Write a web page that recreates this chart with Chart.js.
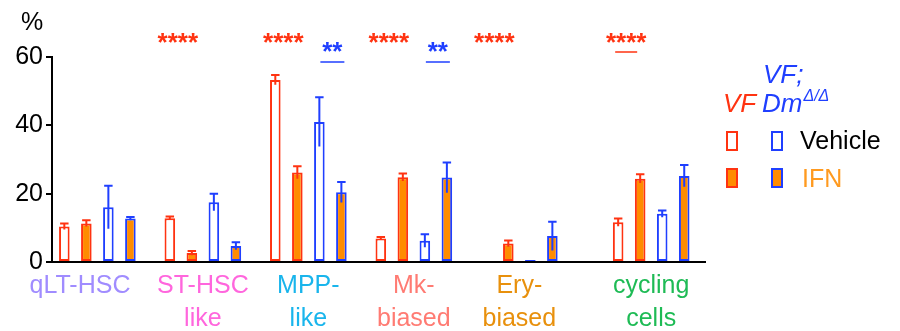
<!DOCTYPE html>
<html>
<head>
<meta charset="utf-8">
<script src="https://cdn.jsdelivr.net/npm/chart.js@4/dist/chart.umd.min.js"></script>
<style>
  html, body { margin: 0; padding: 0; background: #fff; }
  #wrap { width: 900px; height: 331px; }
</style>
</head>
<body>
<div id="wrap"><canvas id="chart" width="900" height="331"></canvas></div>
<script>
// categories and their positions on the x axis (last group sits a little further out)
const categories = [["qLT-HSC"], ["ST-HSC", "like"], ["MPP-", "like"], ["Mk-", "biased"], ["Ery-", "biased"], ["cycling", "cells"]];
const groupPos = [0, 1, 2, 3, 4, 5.25];
const labelColors = ["#A08CFF", "#FF66DD", "#19B5EC", "#FF7B73", "#E8900C", "#1EBB55"];
// trailing spaces nudge a centred label to the left (qLT-HSC sits left of its bars)
const labelPad = [5, 0, 0, 0, 0, 0];

// means (%) and SEM
const vfVehicle = [10.4, 12.8, 53.3, 6.9, 0, 11.6];
const vfVehicleErr = [0.9, 0.5, 1.4, 0.4, 0, 1.1];
const vfIfn = [11.3, 2.6, 26.2, 24.8, 5.4, 24.4];
const vfIfnErr = [0.9, 0.6, 1.8, 1.1, 0.9, 1.3];
const dmVehicle = [16.0, 17.5, 41.0, 6.2, 0.6, 14.1];
const dmVehicleErr = [6.3, 2.5, 7.2, 1.9, 0, 1.0];
const dmIfn = [12.7, 4.7, 20.4, 24.7, 7.6, 25.2];
const dmIfnErr = [0.5, 1.1, 3.0, 4.4, 4.2, 3.2];

const yTicks = [0, 20, 40, 60];

// significance marks per group
const sigVF = ["", "****", "****", "****", "****", "****"];
const sigVFLine = [false, false, false, false, false, true];
const sigDm = ["", "", "**", "**", "", ""];
const sigDmLine = [false, false, true, true, false, false];

const RED = "#FF3311";
const BLUE = "#1F3FFF";
const ORANGE = "#FF8C00";
const FONT = "'Liberation Sans', Arial, Helvetica, sans-serif";

const toXY = arr => arr.map((v, i) => ({ x: groupPos[i], y: v }));

const errorBars = {
    id: "errorBars",
    afterDatasetsDraw(chart) {
        const ctx = chart.ctx;
        const ys = chart.scales.y;
        chart.data.datasets.forEach((ds, di) => {
            const meta = chart.getDatasetMeta(di);
            meta.data.forEach((bar, i) => {
                const e = ds.errors[i];
                if (!e) return;
                const v = ds.data[i].y;
                const top = ys.getPixelForValue(v + e);
                const bot = ys.getPixelForValue(Math.max(0, v - e));
                const cw = bar.width * 0.4;
                ctx.save();
                ctx.strokeStyle = ds.borderColor;
                ctx.lineWidth = 2;
                ctx.beginPath();
                ctx.moveTo(bar.x, bot);
                ctx.lineTo(bar.x, top);
                ctx.moveTo(bar.x - cw, top);
                ctx.lineTo(bar.x + cw, top);
                ctx.stroke();
                ctx.restore();
            });
        });
    }
};

const annotations = {
    id: "annotations",
    afterDraw(chart) {
        const ctx = chart.ctx;
        const m = [0, 1, 2, 3].map(i => chart.getDatasetMeta(i));
        ctx.save();
        ctx.textAlign = "center";
        ctx.textBaseline = "alphabetic";
        ctx.font = "bold 26px " + FONT;

        categories.forEach((c, g) => {
            if (sigVF[g]) {
                const cx = (m[0].data[g].x + m[1].data[g].x) / 2 - 3;
                ctx.fillStyle = RED;
                ctx.fillText(sigVF[g], cx, 51);
                if (sigVFLine[g]) {
                    ctx.strokeStyle = RED; ctx.lineWidth = 1.5;
                    ctx.beginPath(); ctx.moveTo(cx - 11, 52); ctx.lineTo(cx + 11, 52); ctx.stroke();
                }
            }
            if (sigDm[g]) {
                const cx = (m[2].data[g].x + m[3].data[g].x) / 2 + 2;
                ctx.fillStyle = BLUE;
                ctx.fillText(sigDm[g], cx, 60);
                if (sigDmLine[g]) {
                    ctx.strokeStyle = BLUE; ctx.lineWidth = 1.5;
                    ctx.beginPath(); ctx.moveTo(cx - 12, 62); ctx.lineTo(cx + 12, 62); ctx.stroke();
                }
            }
        });

        // unit label
        ctx.textAlign = "left";
        ctx.fillStyle = "#000";
        ctx.font = "25px " + FONT;
        ctx.fillText("%", 21, 30);

        // legend
        ctx.font = "italic 26px " + FONT;
        ctx.fillStyle = RED;
        ctx.fillText("VF", 723, 112);
        ctx.fillStyle = BLUE;
        ctx.fillText("VF;", 763, 83);
        ctx.fillText("Dm", 762, 112);
        const dmW = ctx.measureText("Dm").width;
        ctx.font = "italic 16px " + FONT;
        ctx.fillText("\u0394/\u0394", 762 + dmW + 1, 101);

        ctx.lineWidth = 2;
        // vehicle row
        ctx.strokeStyle = RED; ctx.strokeRect(727, 132, 10, 18);
        ctx.strokeStyle = BLUE; ctx.strokeRect(772, 132, 10, 18);
        // IFN row
        ctx.fillStyle = ORANGE;
        ctx.fillRect(727, 169, 10, 18); ctx.fillRect(772, 169, 10, 18);
        ctx.strokeStyle = RED; ctx.strokeRect(727, 169, 10, 18);
        ctx.strokeStyle = BLUE; ctx.strokeRect(772, 169, 10, 18);

        ctx.font = "25px " + FONT;
        ctx.fillStyle = "#000";
        ctx.fillText("Vehicle", 800, 149);
        ctx.fillStyle = "#FF9A1F";
        ctx.fillText("IFN", 802, 187);
        ctx.restore();
    }
};

const barBase = { borderWidth: 2, borderSkipped: false, categoryPercentage: 0.835, barPercentage: 0.48 };

new Chart(document.getElementById("chart"), {
    type: "bar",
    data: {
        datasets: [
            { ...barBase, label: "VF Vehicle", data: toXY(vfVehicle), errors: vfVehicleErr, backgroundColor: "#fff", borderColor: RED },
            { ...barBase, label: "VF IFN", data: toXY(vfIfn), errors: vfIfnErr, backgroundColor: ORANGE, borderColor: RED },
            { ...barBase, label: "VF;Dm Vehicle", data: toXY(dmVehicle), errors: dmVehicleErr, backgroundColor: "#fff", borderColor: BLUE },
            { ...barBase, label: "VF;Dm IFN", data: toXY(dmIfn), errors: dmIfnErr, backgroundColor: ORANGE, borderColor: BLUE }
        ]
    },
    options: {
        responsive: false,
        animation: false,
        devicePixelRatio: 1,
        layout: { padding: { left: 0, right: 195, top: 57, bottom: 0 } },
        plugins: { legend: { display: false }, tooltip: { enabled: false } },
        scales: {
            x: {
                type: "linear",
                offset: false,
                min: -0.43,
                max: 5.76,
                afterBuildTicks: s => { s.ticks = groupPos.map(v => ({ value: v })); },
                afterFit: s => { s.height = 69; },
                grid: { display: false, drawTicks: false, offset: false },
                border: { display: true, color: "#000", width: 2 },
                ticks: {
                    autoSkip: false,
                    maxRotation: 0,
                    minRotation: 0,
                    padding: 7,
                    callback: (v, i) => categories[i].map((t, k) => k === 0 ? t + " ".repeat(labelPad[i]) : t),
                    color: c => labelColors[c.index],
                    font: { family: FONT, size: 25, lineHeight: 1.34 }
                }
            },
            y: {
                min: 0,
                max: 60,
                afterBuildTicks: s => { s.ticks = yTicks.map(v => ({ value: v })); },
                afterFit: s => { s.width = 52; },
                grid: { drawOnChartArea: false, drawTicks: true, tickLength: 6, color: "#000", lineWidth: 2 },
                border: { display: true, color: "#000", width: 2 },
                ticks: { color: "#000", padding: 3, font: { family: FONT, size: 25 } }
            }
        }
    },
    plugins: [errorBars, annotations]
});
</script>
</body>
</html>
